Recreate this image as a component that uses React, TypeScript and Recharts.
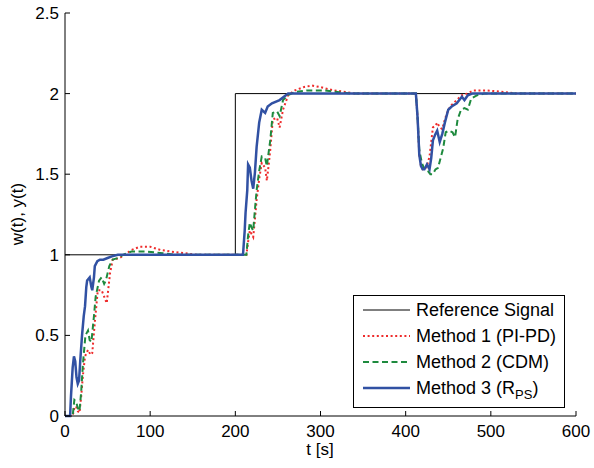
import { LineChart, Line, XAxis, YAxis } from 'recharts';

// step responses, [t in s, value]
const referenceSignal: [number, number][] = [
  [0, 1], [200, 1], [200, 2], [600, 2],
];

const method1: [number, number][] = [
  [0, 0], [9, 0], [11, 0.05], [13, 0.06], [15, 0.03], [17, 0.02], [19, 0.12], [21, 0.25],
  [23.5, 0.37], [27, 0.41], [30, 0.38], [32, 0.39], [35, 0.58], [38.5, 0.78], [43, 0.78],
  [46, 0.74], [49, 0.7], [53, 0.89], [56, 0.97], [64, 0.98], [70, 1.0], [78, 1.03], [88, 1.05],
  [100, 1.05], [112, 1.03], [125, 1.02], [140, 1.01], [155, 1.0], [213, 1.0], [215, 1.08],
  [217, 1.15], [219, 1.13], [221, 1.11], [223, 1.22], [225, 1.34], [228, 1.47], [231, 1.57],
  [235, 1.54], [237, 1.46], [239, 1.55], [241, 1.65], [244, 1.84], [249, 1.85], [252, 1.79],
  [256, 1.9], [262, 1.99], [270, 2.02], [280, 2.04], [290, 2.05], [300, 2.04], [315, 2.02],
  [330, 2.01], [340, 2.0], [412, 2.0], [414, 1.85], [416, 1.62], [418, 1.55], [420, 1.53],
  [422, 1.53], [425, 1.55], [428, 1.61], [432, 1.79], [435, 1.8], [437, 1.82], [440, 1.79],
  [443, 1.78], [446, 1.84], [450, 1.9], [454, 1.93], [460, 1.96], [466, 1.99], [472, 2.0],
  [480, 2.02], [495, 2.02], [515, 2.01], [530, 2.0], [600, 2.0],
];

const method2: [number, number][] = [
  [0, 0], [9, 0], [11, 0.1], [13, 0.09], [15, 0.05], [17, 0.03], [19, 0.15], [21, 0.32],
  [24, 0.5], [27, 0.53], [29, 0.47], [31, 0.46], [34, 0.62], [36, 0.74], [40, 0.84], [43, 0.86],
  [46, 0.82], [48, 0.84], [52, 0.93], [56, 0.97], [62, 0.98], [68, 1.0], [78, 1.02], [95, 1.02],
  [115, 1.01], [130, 1.0], [213, 1.0], [215, 1.12], [217, 1.2], [219, 1.17], [221, 1.15],
  [223, 1.28], [225, 1.4], [228, 1.52], [231, 1.61], [235, 1.6], [237, 1.55], [239, 1.63],
  [241, 1.71], [244, 1.88], [249, 1.89], [252, 1.86], [256, 1.96], [262, 1.99], [270, 2.01],
  [285, 2.02], [305, 2.02], [320, 2.01], [335, 2.0], [412, 2.0], [414, 1.85], [416, 1.65],
  [419, 1.57], [422, 1.53], [426, 1.52], [429, 1.5], [432, 1.5], [435, 1.53], [438, 1.54],
  [441, 1.6], [444, 1.66], [447, 1.76], [451, 1.77], [455, 1.76], [458, 1.73], [461, 1.84],
  [465, 1.9], [469, 1.91], [473, 1.9], [477, 1.97], [484, 1.99], [492, 2.0], [600, 2.0],
];

const method3: [number, number][] = [
  [0, 0], [6, 0], [7, 0.12], [9, 0.3], [10.5, 0.37], [12, 0.34], [13.5, 0.24], [15, 0.2],
  [16.5, 0.22], [18, 0.35], [20, 0.5], [22, 0.62], [23.5, 0.68], [25, 0.8], [26, 0.84],
  [29, 0.86], [31, 0.8], [32, 0.78], [34, 0.86], [35, 0.93], [38, 0.96], [41, 0.97], [45, 0.97],
  [50, 0.98], [55, 0.99], [62, 1.0], [209, 1.0], [211, 1.15], [212, 1.26], [214, 1.4],
  [215, 1.56], [217, 1.54], [219, 1.46], [221, 1.41], [223, 1.51], [225, 1.67], [228, 1.82],
  [231, 1.9], [235, 1.88], [238, 1.92], [243, 1.94], [252, 1.96], [262, 2.0], [412, 2.0],
  [414, 1.85], [416, 1.62], [418, 1.55], [420, 1.53], [422, 1.53], [425, 1.56], [428, 1.53],
  [430, 1.6], [432, 1.71], [435, 1.75], [437, 1.77], [440, 1.7], [443, 1.75], [446, 1.82],
  [450, 1.9], [454, 1.92], [460, 1.94], [466, 1.98], [469, 1.96], [473, 1.99], [478, 2.0],
  [600, 2.0],
];

const xTicks = [0, 100, 200, 300, 400, 500, 600];
const yTicks = [0, 0.5, 1, 1.5, 2, 2.5];

const FONT = '"Liberation Sans", Arial, sans-serif';
const FS = 17;

const series = [
  { name: 'Reference Signal', pts: referenceSignal, color: '#000000', width: 1, dash: undefined },
  { name: 'Method 1 (PI-PD)', pts: method1, color: '#ee2b2b', width: 2, dash: '2 2.6' },
  { name: 'Method 2 (CDM)', pts: method2, color: '#1e8a3e', width: 2, dash: '6 3.5' },
  { name: 'Method 3', sub: 'PS', pts: method3, color: '#3151a3', width: 2.5, dash: undefined },
];

const toPoints = (pts: [number, number][]) => pts.map(([t, y]) => ({ t, y }));

const BottomTick = ({ x, y, payload }: any) => (
  <g>
    <line x1={x} x2={x} y1={y - 9} y2={y - 14} stroke="#000" />
    <text x={x} y={y} dy="0.71em" textAnchor="middle" fontSize={FS} fontFamily={FONT} fill="#000">
      {payload.value}
    </text>
  </g>
);

const TopTick = ({ x, y }: any) => <line x1={x} x2={x} y1={y} y2={y + 5} stroke="#000" />;

const LeftTick = ({ x, y, payload }: any) => (
  <g>
    <line x1={x + 6} x2={x + 11} y1={y} y2={y} stroke="#000" />
    <text x={x} y={y} dy="0.355em" textAnchor="end" fontSize={FS} fontFamily={FONT} fill="#000">
      {payload.value}
    </text>
  </g>
);

const RightTick = ({ x, y }: any) => <line x1={x} x2={x - 5} y1={y} y2={y} stroke="#000" />;

export default function App() {
  return (
    <div style={{ position: 'absolute', left: 0, top: 0, width: 594, height: 468, background: '#fff', fontFamily: FONT }}>
      <LineChart width={594} height={468} margin={{ top: 13, right: 18, bottom: 0, left: 0 }}>
        <XAxis
          dataKey="t"
          type="number"
          domain={[0, 600]}
          ticks={xTicks}
          interval={0}
          height={52}
          tickSize={0}
          tickMargin={9}
          tick={<BottomTick />}
          axisLine={{ stroke: '#000' }}
          allowDuplicatedCategory
          label={{
            content: () => (
              <text x={320} y={455} textAnchor="middle" fontSize={FS} fontFamily={FONT} fill="#000">
                t [s]
              </text>
            ),
          }}
        />
        <XAxis
          xAxisId="top"
          orientation="top"
          type="number"
          domain={[0, 600]}
          ticks={xTicks}
          interval={0}
          height={0}
          tickSize={0}
          tickMargin={0}
          tick={<TopTick />}
          axisLine={{ stroke: '#000' }}
        />
        <YAxis
          type="number"
          domain={[0, 2.5]}
          ticks={yTicks}
          interval={0}
          width={65}
          tickSize={0}
          tickMargin={6}
          tick={<LeftTick />}
          axisLine={{ stroke: '#000' }}
          label={{
            content: () => (
              <text x={23} y={214} transform="rotate(-90, 23, 214)" textAnchor="middle" fontSize={FS} fontFamily={FONT} fill="#000">
                w(t), y(t)
              </text>
            ),
          }}
        />
        <YAxis
          yAxisId="right"
          orientation="right"
          type="number"
          domain={[0, 2.5]}
          ticks={yTicks}
          interval={0}
          width={0}
          tickSize={0}
          tickMargin={0}
          tick={<RightTick />}
          axisLine={{ stroke: '#000' }}
        />
        {series.map((s) => (
          <Line
            key={s.name}
            data={toPoints(s.pts)}
            dataKey="y"
            type="linear"
            stroke={s.color}
            strokeWidth={s.width}
            strokeDasharray={s.dash}
            dot={false}
            activeDot={false}
            isAnimationActive={false}
          />
        ))}
      </LineChart>
      <div
        style={{
          position: 'absolute',
          left: 353,
          top: 295,
          width: 212,
          height: 113,
          boxSizing: 'border-box',
          border: '1px solid #000',
          background: '#fff',
          paddingTop: 1,
        }}
      >
        {series.map((s) => (
          <div key={s.name} style={{ height: 26, display: 'flex', alignItems: 'center', fontSize: 18, color: '#000' }}>
            <svg width={47} height={10} style={{ marginLeft: 9, marginRight: 6 }}>
              <line x1={0} x2={47} y1={5} y2={5} stroke={s.color} strokeWidth={s.width} strokeDasharray={s.dash} />
            </svg>
            <span style={{ whiteSpace: 'nowrap' }}>
              {s.name}
              {s.sub && (
                <>
                  {' (R'}
                  <sub style={{ fontSize: 13, lineHeight: 0 }}>{s.sub}</sub>
                  {')'}
                </>
              )}
            </span>
          </div>
        ))}
      </div>
    </div>
  );
}
